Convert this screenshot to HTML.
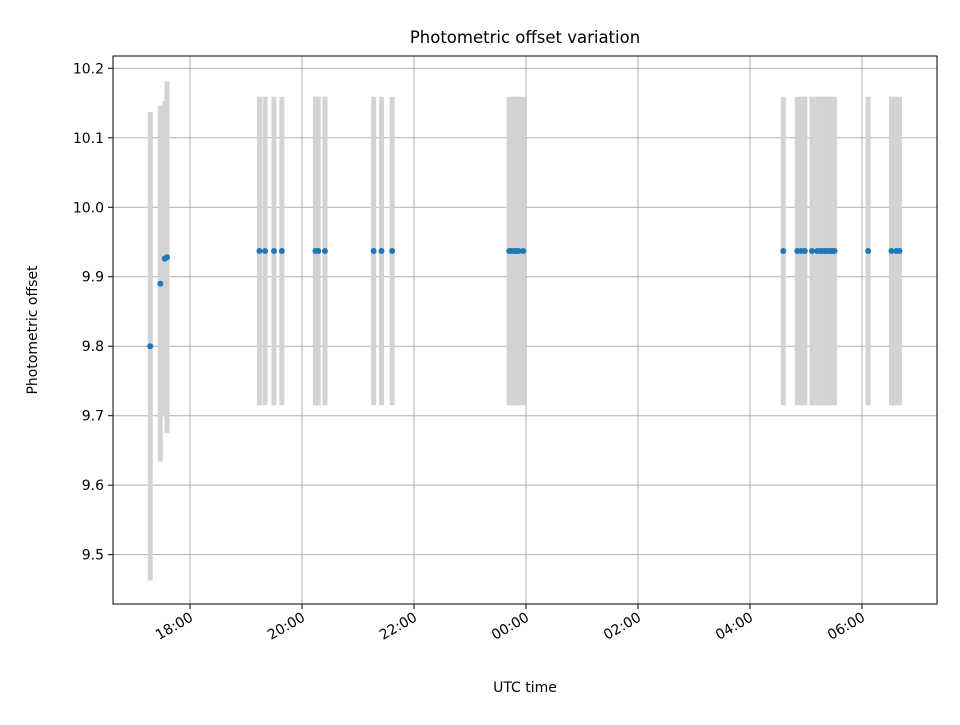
<!DOCTYPE html>
<html><head><meta charset="utf-8"><style>
body{margin:0;background:#fff}
svg text{font-family:"DejaVu Sans","Liberation Sans",sans-serif;fill:#000}
</style></head><body>
<svg id="chart" width="960" height="720" viewBox="0 0 960 720">
<rect width="960" height="720" fill="#fff"/>
<text x="525" y="43" font-size="16.5" text-anchor="middle">Photometric offset variation</text>
<text x="525" y="692" font-size="14" text-anchor="middle">UTC time</text>
<text x="37" y="330" font-size="14" text-anchor="middle" transform="rotate(-90 37 330)">Photometric offset</text>
<g id="grid"></g><g id="bars"></g><g id="pts"></g><g id="axes"></g>
</svg>
<script>
// hours since 00:00 of first day (values >24 are next day)
const times=[17.29,17.47,17.55,17.59,19.24,19.34,19.5,19.64,20.24,20.29,20.41,21.28,21.42,21.61,23.70,23.74,23.79,23.83,23.87,23.95,28.595,28.845,28.91,28.98,29.107,29.2,29.25,29.29,29.34,29.38,29.43,29.47,29.51,30.11,30.527,30.616,30.67];
const offsets=[9.80,9.89,9.926,9.928,9.937,9.937,9.937,9.937,9.937,9.937,9.937,9.937,9.937,9.937,9.937,9.937,9.937,9.937,9.937,9.937,9.937,9.937,9.937,9.937,9.937,9.937,9.937,9.937,9.937,9.937,9.937,9.937,9.937,9.937,9.937,9.937,9.937];
const errors=[0.337,0.256,0.227,0.253,0.222,0.222,0.222,0.222,0.222,0.222,0.222,0.222,0.222,0.222,0.222,0.222,0.222,0.222,0.222,0.222,0.222,0.222,0.222,0.222,0.222,0.222,0.222,0.222,0.222,0.222,0.222,0.222,0.222,0.222,0.222,0.222,0.222];
const xTicks=[18,20,22,24,26,28,30];
const xTickLabels=["18:00","20:00","22:00","00:00","02:00","04:00","06:00"];
const yTicks=[9.5,9.6,9.7,9.8,9.9,10.0,10.1,10.2];
const yTickLabels=["9.5","9.6","9.7","9.8","9.9","10.0","10.1","10.2"];
const L=113,R=937,T=56,B=604,x0=16.625,x1=31.34,y0=9.429,y1=10.2177;
const X=h=>L+(h-x0)/(x1-x0)*(R-L);
const Y=v=>B-(v-y0)/(y1-y0)*(B-T);
const NS="http://www.w3.org/2000/svg";
function mk(p,tag,a){const e=document.createElementNS(NS,tag);for(const k in a)e.setAttribute(k,a[k]);p.appendChild(e);return e;}
const g=document.getElementById('grid'),b=document.getElementById('bars'),pt=document.getElementById('pts'),ax=document.getElementById('axes');
xTicks.forEach((t,i)=>{const x=X(t);
 let l=mk(g,'line',{x1:x,x2:x,y1:T,y2:B,stroke:'#b0b0b0','stroke-width':1});
 
 let k=mk(ax,'line',{x1:x,x2:x,y1:B,y2:B+5,stroke:'#000'});
 
 let tx=mk(ax,'text',{x:x+4,y:B+16,'font-size':14,'text-anchor':'end',transform:`rotate(-30 ${x+4} ${B+16})`});
 tx.textContent=xTickLabels[i];
 });
yTicks.forEach((t,i)=>{const y=Y(t);
 let l=mk(g,'line',{x1:L,x2:R,y1:y,y2:y,stroke:'#b0b0b0','stroke-width':1});
 
 let k=mk(ax,'line',{x1:L-5,x2:L,y1:y,y2:y,stroke:'#000'});
 
 let tx=mk(ax,'text',{x:L-9,y:y+5,'font-size':14,'text-anchor':'end'});
 tx.textContent=yTickLabels[i];
 });
times.forEach((t,i)=>{const x=X(t);
 let e=mk(b,'line',{x1:x,x2:x,y1:Y(offsets[i]+errors[i]),y2:Y(offsets[i]-errors[i]),stroke:'#d3d3d3','stroke-width':5});
 
 let c=mk(pt,'circle',{cx:x,cy:Y(offsets[i]),r:3,fill:'#1f77b4'});
 });
let fr=mk(ax,'rect',{x:L,y:T,width:R-L,height:B-T,fill:'none',stroke:'#000','stroke-width':1});

</script>
</body></html>
